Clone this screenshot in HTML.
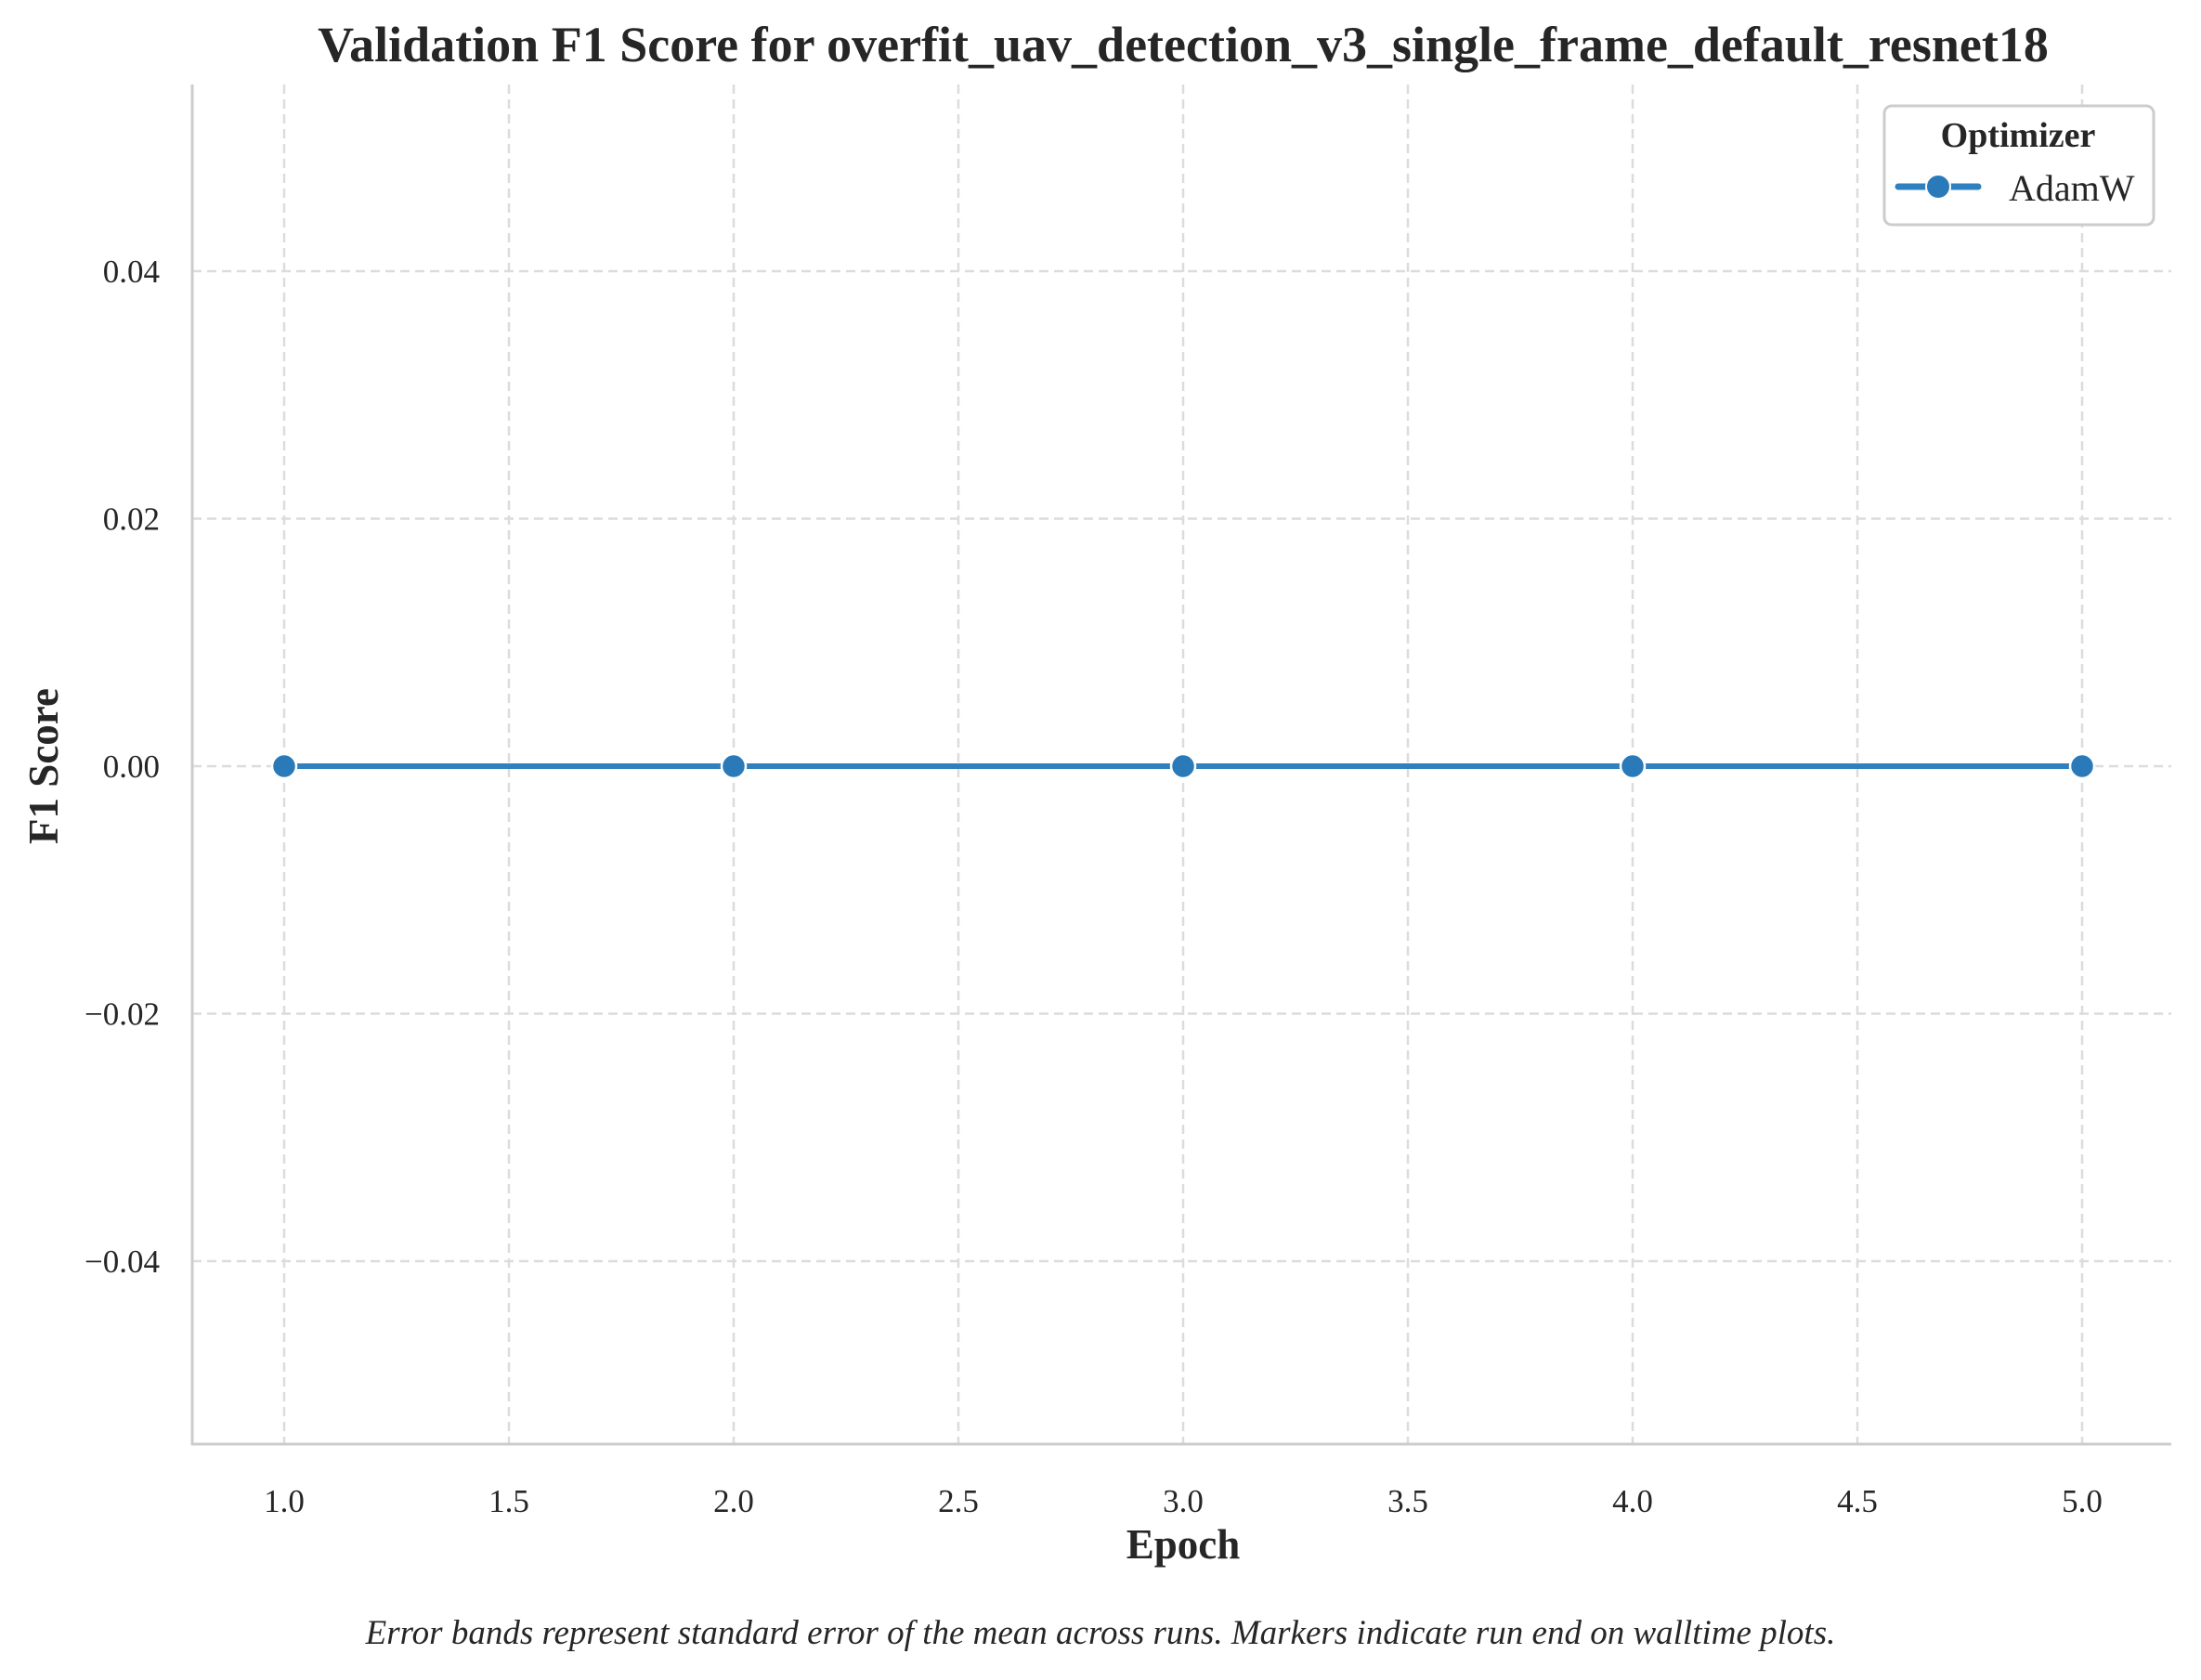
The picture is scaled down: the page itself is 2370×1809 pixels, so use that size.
<!DOCTYPE html>
<html><head><meta charset="utf-8"><style>
body{margin:0;background:#fff;}
svg text{font-family:"Liberation Serif",serif;fill:#262626;}
</style></head><body>
<svg width="2370" height="1804" xmlns="http://www.w3.org/2000/svg">
<g id="grid"></g>
<g id="axes"></g>
<g id="series"></g>
<text x="1274" y="66" font-size="54" font-weight="bold" text-anchor="middle">Validation F1 Score for overfit_uav_detection_v3_single_frame_default_resnet18</text>
<text x="1274" y="1678" font-size="45" font-weight="bold" text-anchor="middle">Epoch</text>
<text x="62" y="825" font-size="45" font-weight="bold" text-anchor="middle" transform="rotate(-90 62 825)">F1 Score</text>
<text x="1185" y="1770" font-size="37" font-style="italic" text-anchor="middle">Error bands represent standard error of the mean across runs. Markers indicate run end on walltime plots.</text>
<g>
<rect x="2029" y="114" width="290" height="128" rx="8" fill="#fff" stroke="#ccc" stroke-width="3"/>
<text x="2173" y="158" font-size="38" font-weight="bold" text-anchor="middle">Optimizer</text>
<g>
<line x1="2044" y1="201" x2="2130" y2="201" stroke="#2f80bf" stroke-width="7" stroke-linecap="round"/>
<circle cx="2087" cy="201" r="13" fill="#2a7ab9" stroke="#fff" stroke-width="2"/>
<text x="2163" y="216" font-size="40">AdamW</text>
</g></g>
</svg>
<script>
const epochs=[1,2,3,4,5];
const f1Values=[0,0,0,0,0];
const xTicks=[1.0,1.5,2.0,2.5,3.0,3.5,4.0,4.5,5.0];
const yTicks=[-0.04,-0.02,0.00,0.02,0.04];
const L=207,R=2338,T=91,B=1555;
const X=v=>306+(v-1)*484;
const Y=v=>825-v*(533/0.04);
const NS='http://www.w3.org/2000/svg';
function mk(p,tag,attrs){const e=document.createElementNS(NS,tag);for(const k in attrs)e.setAttribute(k,attrs[k]);p.appendChild(e);return e;}
const grid=document.getElementById('grid'),axes=document.getElementById('axes'),ser=document.getElementById('series');
xTicks.forEach(t=>{
 const g=mk(grid,'line',{x1:X(t),x2:X(t),y1:T,y2:B,stroke:'#dcdcdc','stroke-width':2.5,'stroke-dasharray':'10 6'});
 
 
 const tx=mk(axes,'text',{x:X(t),y:1628,'font-size':35,'text-anchor':'middle'});
 tx.textContent=t.toFixed(1);
 
 
});
yTicks.forEach(t=>{
 const g=mk(grid,'line',{x1:L,x2:R,y1:Y(t),y2:Y(t),stroke:'#dcdcdc','stroke-width':2.5,'stroke-dasharray':'10 6'});
 
 
 const tx=mk(axes,'text',{x:172,y:Y(t)+12,'font-size':35,'text-anchor':'end'});
 tx.textContent=(t<0?'\u2212':'')+Math.abs(t).toFixed(2);
 
 
});
const ls=mk(axes,'line',{x1:L,x2:L,y1:T,y2:B+1,stroke:'#cccccc','stroke-width':3});


const bs=mk(axes,'line',{x1:L-1,x2:R,y1:B,y2:B,stroke:'#cccccc','stroke-width':3});


const pl=mk(ser,'polyline',{points:epochs.map((e,i)=>X(e)+','+Y(f1Values[i])).join(' '),fill:'none',stroke:'#2f80bf','stroke-width':6});


epochs.forEach((e,i)=>{
 const c=mk(ser,'circle',{cx:X(e),cy:Y(f1Values[i]),r:13,fill:'#2a7ab9',stroke:'#fff','stroke-width':2.5});
 
 
});
</script>
</body></html>
